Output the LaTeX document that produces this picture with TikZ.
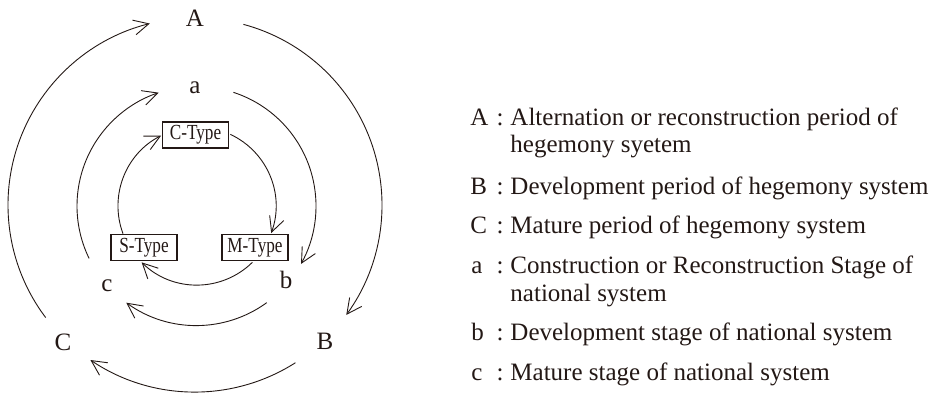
\documentclass[tikz,border=0pt]{standalone}
\usepackage{fontspec}
\setmainfont{Liberation Serif}
\usetikzlibrary{arrows.meta}
\definecolor{ink}{HTML}{231815}
\begin{document}
\begin{tikzpicture}[x=1pt,y=1pt,
  ink, line width=0.9pt,
  arr/.style={-{Straight Barb[length=15pt,width=15pt,line width=0.9pt]}},
  lab/.style={font=\fontsize{25}{30}\selectfont, inner sep=0pt, anchor=base},
  typebox/.style={draw, line width=1.1pt, minimum width=66pt, minimum height=26pt, inner sep=0pt,
    font=\fontsize{21.5}{24}\selectfont},
  legkey/.style={font=\fontsize{25}{30}\selectfont, inner sep=0pt, anchor=base west},
  legcol/.style={font=\fontsize{25}{30}\selectfont, inner sep=0pt, anchor=base},
  legtxt/.style={font=\fontsize{25}{30}\selectfont, inner sep=0pt, anchor=base west}]
\useasboundingbox (0,0) rectangle (937,-393);
% centres
\coordinate (O) at (195,-205);
\coordinate (M) at (196.5,-206);
\coordinate (I) at (197,-206);
% labels
\node[lab] (A) at (195,-27) {A};
\node[lab] (B) at (325,-349) {B};
\node[lab] (C) at (63,-350) {C};
\node[lab] (a) at (195,-94) {a};
\node[lab] (b) at (286,-288) {b};
\node[lab] (c) at (107,-291) {c};
% boxes
\node[typebox] (CT) at (195.5,-135) {\scalebox{0.8}[1]{C-Type}};
\node[typebox] (MT) at (255,-247.5) {\scalebox{0.8}[1]{M-Type}};
\node[typebox] (ST) at (144,-247.5) {\scalebox{0.8}[1]{S-Type}};
% outer arcs
\draw[arr] ([shift={(217:187)}]O) arc[start angle=217, end angle=104, radius=187];
\draw[arr] ([shift={(75:187)}]O) arc[start angle=75, end angle=-36, radius=187];
\draw[arr] ([shift={(-57.5:187)}]O) arc[start angle=-57.5, end angle=-124, radius=187];
% middle arcs
\draw[arr] ([shift={(206:119.5)}]M) arc[start angle=206, end angle=108.5, radius=119.5];
\draw[arr] ([shift={(72:119.5)}]M) arc[start angle=72, end angle=-29, radius=119.5];
\draw[arr] ([shift={(-54:119.5)}]M) arc[start angle=-54, end angle=-126, radius=119.5];
% inner arcs
\draw[arr] ([shift={(65:79)}]I) arc[start angle=65, end angle=-20, radius=79];
\draw[arr] ([shift={(-45.5:79)}]I) arc[start angle=-45.5, end angle=-134.5, radius=79];
\draw[arr] ([shift={(200.5:79)}]I) arc[start angle=200.5, end angle=117, radius=79];
% legend
\node[legkey] (kA) at (470,-126) {A};
\node[legcol] (cA) at (500,-126) {:};
\node[legtxt] (tA) at (510,-126) {Alternation or reconstruction period of};
\node[legtxt] (tA2) at (510,-153) {hegemony syetem};
\node[legkey] (kB) at (470,-194) {B};
\node[legcol] (cB) at (500,-194) {:};
\node[legtxt] (tB) at (510,-194) {Development period of hegemony system};
\node[legkey] (kC) at (470,-233) {C};
\node[legcol] (cC) at (500,-233) {:};
\node[legtxt] (tC) at (510,-233) {Mature period of hegemony system};
\node[legkey] (ka) at (471,-273) {a};
\node[legcol] (ca) at (500,-273) {:};
\node[legtxt] (ta) at (510,-273) {Construction or Reconstruction Stage of};
\node[legtxt] (ta2) at (510,-301) {national system};
\node[legkey] (kb) at (471,-340) {b};
\node[legcol] (cb) at (500,-340) {:};
\node[legtxt] (tb) at (510,-340) {Development stage of national system};
\node[legkey] (kc) at (471,-380) {c};
\node[legcol] (cc) at (500,-380) {:};
\node[legtxt] (tc) at (510,-380) {Mature stage of national system};
\end{tikzpicture}
\end{document}
